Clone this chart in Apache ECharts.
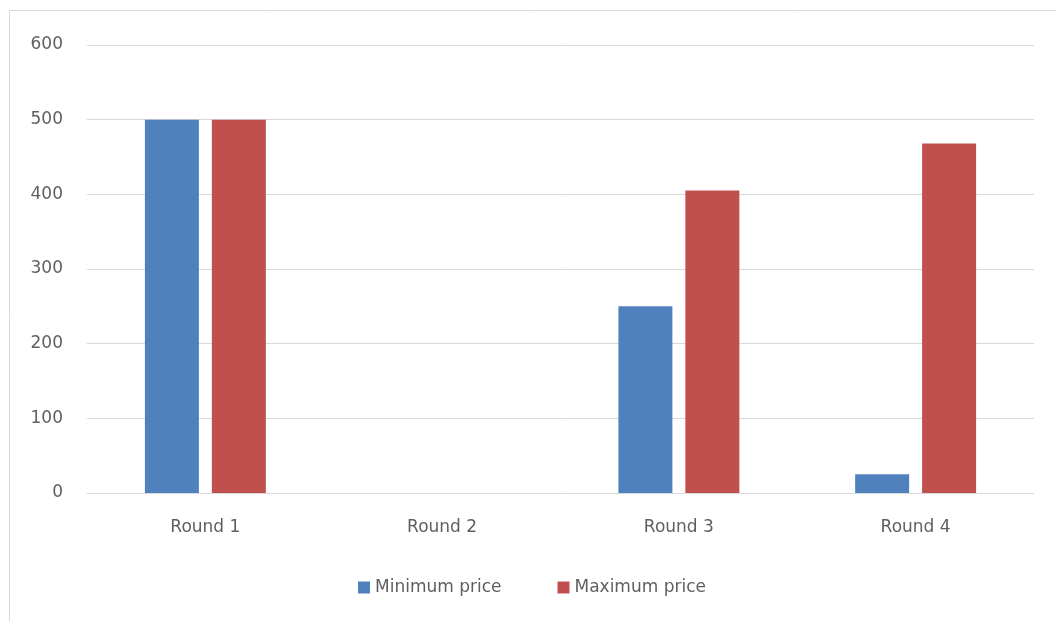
<!DOCTYPE html>
<html>
<head>
<meta charset="utf-8">
<script src="https://cdn.jsdelivr.net/npm/echarts@6/dist/echarts.min.js"></script>
<style>html,body{margin:0;padding:0;background:#fff;}#c{width:1056px;height:621px;}</style>
</head>
<body>
<div id="c"></div>
<script>
const categories = ['Round 1', 'Round 2', 'Round 3', 'Round 4'];
const minPrice = [500, null, 250, 25];
const maxPrice = [500, null, 405, 468];
const yTicks = [0, 100, 200, 300, 400, 500, 600];

const chart = echarts.init(document.getElementById('c'), null, {renderer: 'canvas'});
const font = "'DejaVu Sans'";
chart.setOption({
  animation: false,
  backgroundColor: '#ffffff',
  graphic: [{
    type: 'rect', shape: {x: 9.5, y: 10.5, width: 1100, height: 700},
    style: {fill: 'none', stroke: '#d9d9d9', lineWidth: 1}, silent: true, z: -1
  }],
  grid: {left: 87, right: 22, top: 45, bottom: 128, containLabel: false},
  legend: {
    bottom: 20, left: 353, itemWidth: 12, itemHeight: 12, itemGap: 56,
    icon: 'rect',
    textStyle: {color: '#5f5f5f', fontSize: 17, fontFamily: font},
    data: ['Minimum price', 'Maximum price']
  },
  xAxis: {
    type: 'category', data: categories,
    axisLine: {show: true, lineStyle: {color: '#d9d9d9', width: 1}},
    axisTick: {show: false},
    axisLabel: {color: '#5f5f5f', fontSize: 17, fontFamily: font, margin: 26}
  },
  yAxis: {
    type: 'value', min: yTicks[0], max: yTicks[yTicks.length - 1], interval: 100,
    axisLine: {show: false}, axisTick: {show: false},
    axisLabel: {color: '#5f5f5f', fontSize: 17, fontFamily: font, margin: 24},
    splitLine: {lineStyle: {color: '#d9d9d9', width: 1}}
  },
  series: [
    {name: 'Minimum price', type: 'bar', data: minPrice, barWidth: 54, barGap: '24%',
     itemStyle: {color: '#4F81BD'}},
    {name: 'Maximum price', type: 'bar', data: maxPrice, barWidth: 54,
     itemStyle: {color: '#C0504D'}}
  ]
});
</script>
</body>
</html>
